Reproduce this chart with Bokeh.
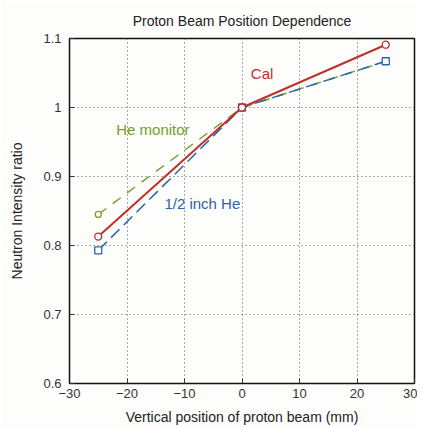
from bokeh.plotting import figure
from bokeh.embed import file_html
from bokeh.resources import INLINE
from bokeh.models import FixedTicker, Label

x_pos = [-25, 0, 25]
cal = [0.813, 1.0, 1.091]
he_half_inch = [0.793, 1.0, 1.067]
he_monitor = [0.845, 1.0, 1.067]

x_ticks = [-30, -20, -10, 0, 10, 20, 30]
y_ticks = [0.6, 0.7, 0.8, 0.9, 1.0, 1.1]

FONT = "Liberation Sans"
RED = "#c0302a"
BLUE = "#2a64a8"
GREEN = "#76a02a"

p = figure(output_backend="svg", toolbar_location=None,
           x_range=(-30, 30), y_range=(0.6, 1.1),
           title="Proton Beam Position Dependence",
           min_border_left=69, min_border_right=3, min_border_top=36, min_border_bottom=2)
p.frame_width = 345
p.frame_height = 345
p.background_fill_color = "#fdfdfb"
p.border_fill_color = "#fdfdfb"
p.outline_line_color = "#111111"
p.outline_line_width = 1.5

p.title.align = "center"
p.title.text_font = FONT
p.title.text_font_size = "14px"
p.title.text_font_style = "normal"
p.title.text_color = "#222222"
p.title.offset = 0
p.title.standoff = 20

for ax in (p.xaxis[0], p.yaxis[0]):
    ax.major_tick_in = 5
    ax.major_tick_out = 0
    ax.minor_tick_in = 0
    ax.minor_tick_out = 0
    ax.axis_line_color = "#111111"
    ax.major_tick_line_color = "#333333"
    ax.major_label_text_font = FONT
    ax.major_label_text_font_size = "13px"
    ax.major_label_text_color = "#333333"
    ax.axis_label_text_font = FONT
    ax.axis_label_text_font_size = "14px"
    ax.axis_label_text_font_style = "normal"
    ax.axis_label_text_color = "#222222"

p.xaxis.ticker = FixedTicker(ticks=x_ticks)
p.yaxis.ticker = FixedTicker(ticks=y_ticks)
p.yaxis.major_label_overrides = {1.0: "1"}
p.xaxis.axis_label = "Vertical position of proton beam (mm)"
p.yaxis.axis_label = "Neutron Intensity ratio"
p.xaxis.major_label_standoff = 5
p.yaxis.major_label_standoff = 8
p.yaxis.axis_label_standoff = 15
p.xaxis.axis_label_standoff = 8

p.grid.grid_line_color = "#555555"
p.grid.grid_line_dash = "1 3"
p.grid.grid_line_width = 1

p.line(x_pos, he_monitor, color=GREEN, line_width=1.5, line_dash="10 8")
p.line(x_pos, he_half_inch, color=BLUE, line_width=1.5, line_dash="12 6")
p.line(x_pos, cal, color=RED, line_width=2)

p.scatter(x_pos, he_monitor, marker="circle", size=6, line_color=GREEN, fill_color="white", line_width=1.3)
p.scatter(x_pos, he_half_inch, marker="square", size=7, line_color=BLUE, fill_color="white", line_width=1.3)
p.scatter(x_pos, cal, marker="circle", size=7, line_color=RED, fill_color="white", line_width=1.3)

p.add_layout(Label(x=3.5, y=1.05, text="Cal", text_color=RED, text_font=FONT,
                   text_font_size="15px", text_align="center", text_baseline="middle"))
p.add_layout(Label(x=-15.5, y=0.968, text="He monitor", text_color=GREEN, text_font=FONT,
                   text_font_size="15px", text_align="center", text_baseline="middle"))
p.add_layout(Label(x=-6.9, y=0.861, text="1/2 inch He", text_color=BLUE, text_font=FONT,
                   text_font_size="15px", text_align="center", text_baseline="middle"))

open("out.html", "w").write(file_html(p, INLINE))
